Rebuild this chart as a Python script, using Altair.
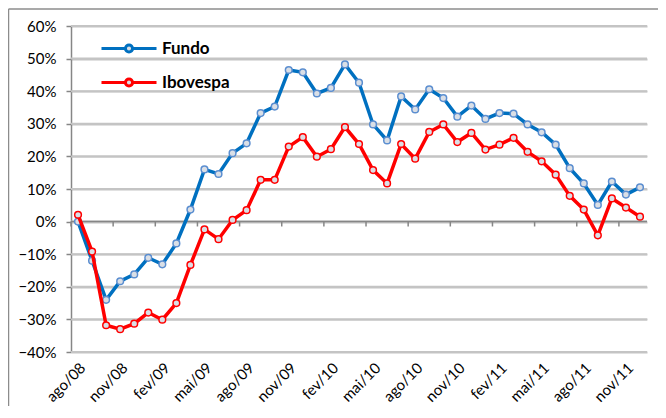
import altair as alt
import pandas as pd

months = ["ago/08", "set/08", "out/08", "nov/08", "dez/08", "jan/09", "fev/09", "mar/09",
          "abr/09", "mai/09", "jun/09", "jul/09", "ago/09", "set/09", "out/09", "nov/09",
          "dez/09", "jan/10", "fev/10", "mar/10", "abr/10", "mai/10", "jun/10", "jul/10",
          "ago/10", "set/10", "out/10", "nov/10", "dez/10", "jan/11", "fev/11", "mar/11",
          "abr/11", "mai/11", "jun/11", "jul/11", "ago/11", "set/11", "out/11", "nov/11",
          "dez/11"]

fundo = [0.0, -12.0, -24.0, -18.3, -16.2, -11.1, -13.1, -6.7, 3.7, 16.0, 14.6, 21.0,
         24.0, 33.3, 35.3, 46.5, 45.8, 39.3, 41.0, 48.2, 42.6, 29.8, 24.9, 38.4, 34.4,
         40.6, 37.9, 32.2, 35.6, 31.5, 33.3, 33.1, 29.8, 27.4, 23.6, 16.4, 11.7, 5.1,
         12.3, 8.3, 10.5]

ibovespa = [2.1, -9.2, -31.8, -33.0, -31.3, -27.9, -30.1, -25.0, -13.3, -2.4, -5.4, 0.5,
            3.5, 12.8, 12.8, 23.0, 25.9, 19.9, 22.2, 29.0, 23.8, 15.8, 11.7, 23.8, 19.3,
            27.5, 29.8, 24.4, 27.2, 22.1, 23.6, 25.7, 21.4, 18.5, 14.4, 7.9, 3.7, -4.2,
            7.1, 4.3, 1.5]

series_names = ["Fundo", "Ibovespa"]
line_colors = ["#0070C0", "#FF0000"]
marker_strokes = ["#5B8ED0", "#FF0000"]
y_ticks = [-40, -30, -20, -10, 0, 10, 20, 30, 40, 50, 60]
label_months = months[::3]

rows = []
for i, m in enumerate(months):
    rows.append({"mes": m, "serie": "Fundo", "valor": fundo[i] / 100})
    rows.append({"mes": m, "serie": "Ibovespa", "valor": ibovespa[i] / 100})
df = pd.DataFrame(rows)
tick_values = [t / 100 for t in y_ticks]
grid_rows = [{"v": t} for t in tick_values]

FONT = "Lato"
GRAY = "#868686"
GRID = "#C4C4C4"

x_scale = alt.Scale(type="band", domain=months, paddingInner=0, paddingOuter=0)
y_scale = alt.Scale(domain=[-0.4, 0.6], nice=False, zero=False)

x_axis = alt.Axis(values=label_months, labelAngle=-45, ticks=False, domain=False,
                  grid=False, labelFont=FONT, labelFontSize=15, labelColor="#000000",
                  labelPadding=8, labelOverlap=False)
y_axis = alt.Axis(values=tick_values, format=".0%", grid=True, gridColor=GRID,
                  gridWidth=2, gridOpacity=1, domainColor=GRAY, domainWidth=1.5,
                  tickColor=GRAY, tickWidth=1.5, tickSize=5, labelPadding=10,
                  labelFont=FONT, labelFontSize=15, labelColor="#000000",
                  labelOverlap=False, tickCount=11)

x_main = alt.X("mes:O", scale=x_scale, title="", axis=x_axis)
y_main = alt.Y("valor:Q", scale=y_scale, title="", axis=y_axis)

symbol_path = ("M-1.31,0L-0.17,0M0.17,0L1.31,0"
               "M-0.17,0A0.17,0.17,0,1,1,0.17,0A0.17,0.17,0,1,1,-0.17,0Z")

color_enc = alt.Color("serie:N", scale=alt.Scale(domain=series_names, range=line_colors),
                      legend=alt.Legend(title="", orient="none", legendX=35.5, legendY=0,
                                        padding=0, symbolType=symbol_path, symbolSize=1764,
                                        symbolStrokeWidth=3, symbolFillColor="#DADFE6",
                                        labelFont=FONT, labelFontSize=17,
                                        labelFontWeight="bold", labelColor="#000000",
                                        labelOffset=10.5, rowPadding=1))
stroke_enc = alt.Stroke("serie:N", scale=alt.Scale(domain=series_names, range=marker_strokes),
                        legend=None)

grid = alt.Chart(alt.Data(values=grid_rows)).mark_rule(
    color=GRID, strokeWidth=2, opacity=1
).encode(
    y=alt.Y("v:Q", scale=y_scale, axis=y_axis, title=""))

layers = []
for s in series_names:
    base = alt.Chart(df).transform_filter(alt.datum.serie == s)
    line = base.mark_line(strokeWidth=3.5).encode(x=x_main, y=y_main, color=color_enc)
    pts = base.mark_point(filled=False, size=45, strokeWidth=1.5, fill="#DADFE6",
                          opacity=1).encode(x=x_main, y=y_main, stroke=stroke_enc)
    layers += [line, pts]

one = pd.DataFrame({"k": [0]})
zero_line = alt.Chart(one).mark_rule(color=GRAY, strokeWidth=1.5).encode(
    y=alt.datum(0, type="quantitative", scale=y_scale, axis=y_axis, title=""))
tick_df = pd.DataFrame({"mes": label_months})
zero_ticks = alt.Chart(tick_df).mark_rule(color=GRAY, strokeWidth=1.5).encode(
    x=alt.X("mes:O", scale=x_scale, title="", axis=x_axis, bandPosition=0),
    y=alt.datum(0, type="quantitative", scale=y_scale, axis=y_axis, title=""),
    y2=alt.datum(-0.015))

border_top = alt.Chart(one).mark_rule(color="#8C8C8C", strokeWidth=1.5).encode(
    x=alt.value(-62.5), x2=alt.value(600), y=alt.value(-17))
border_left = alt.Chart(one).mark_rule(color="#8C8C8C", strokeWidth=1.5).encode(
    x=alt.value(-62.5), y=alt.value(-17), y2=alt.value(380))

chart = alt.layer(
    grid, zero_line, zero_ticks, *layers, border_top, border_left
).properties(
    width=576, height=326,
    autosize=alt.AutoSizeParams(type="none"),
    padding={"left": 63, "top": 18, "right": 11, "bottom": 58},
    background="white",
).configure_view(stroke="transparent")

chart.save("out.html", embed_options={"renderer": "svg", "actions": False})
